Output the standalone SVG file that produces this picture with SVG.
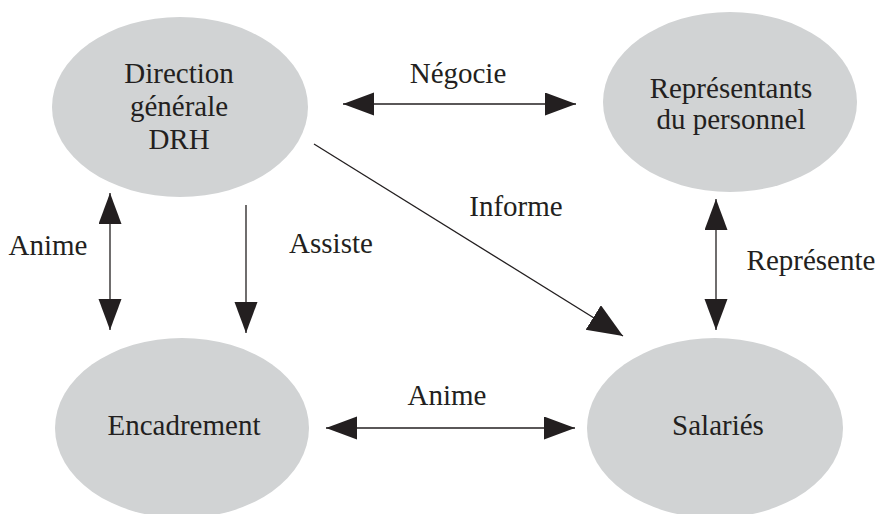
<svg xmlns="http://www.w3.org/2000/svg" width="882" height="514" viewBox="0 0 882 514">
<style>
.node{fill:#d1d3d4;stroke:none}
.t{font-family:'Liberation Serif','Times New Roman','DejaVu Serif',serif;font-size:29px;fill:#231f20;text-anchor:middle}
.conn line{stroke:#231f20;stroke-width:1.3;fill:none}
</style>
<defs>
<marker id="ah" markerUnits="userSpaceOnUse" markerWidth="32" markerHeight="24" refX="31" refY="11.5" orient="auto-start-reverse" viewBox="0 0 32 24">
<path d="M0,0 L31,11.5 L0,23 Z" fill="#231f20"/>
</marker>
<marker id="ahb" markerUnits="userSpaceOnUse" markerWidth="36" markerHeight="30" refX="35" refY="14.5" orient="auto" viewBox="0 0 36 30">
<path d="M0,0 L35,14.5 L0,29 Z" fill="#231f20"/>
</marker>
</defs>
<rect width="882" height="514" fill="#ffffff"/>
<g id="direction">
<ellipse class="node" cx="180" cy="107" rx="128" ry="90"/>
<text class="t" font-family="Liberation Serif, serif" x="179" y="83">Direction</text>
<text class="t" font-family="Liberation Serif, serif" x="179" y="116">générale</text>
<text class="t" font-family="Liberation Serif, serif" x="179" y="149">DRH</text>
</g>
<g id="representants">
<ellipse class="node" cx="730" cy="102" rx="127" ry="90"/>
<text class="t" font-family="Liberation Serif, serif" x="731" y="98">Représentants</text>
<text class="t" font-family="Liberation Serif, serif" x="731" y="129">du personnel</text>
</g>
<g id="encadrement">
<ellipse class="node" cx="182" cy="428" rx="127" ry="90"/>
<text class="t" font-family="Liberation Serif, serif" x="184" y="435">Encadrement</text>
</g>
<g id="salaries">
<ellipse class="node" cx="715" cy="428" rx="128" ry="90"/>
<text class="t" font-family="Liberation Serif, serif" x="718" y="435">Salariés</text>
</g>
<g id="connectors" class="conn">
<line x1="343" y1="104" x2="576" y2="104" marker-start="url(#ah)" marker-end="url(#ah)"/>
<line x1="314" y1="144" x2="623" y2="336" marker-end="url(#ahb)"/>
<line x1="110" y1="193" x2="110" y2="330" marker-start="url(#ah)" marker-end="url(#ah)"/>
<line x1="246" y1="205" x2="246" y2="333" marker-end="url(#ah)"/>
<line x1="716" y1="199" x2="716" y2="330" marker-start="url(#ah)" marker-end="url(#ah)"/>
<line x1="326" y1="428" x2="575" y2="428" marker-start="url(#ah)" marker-end="url(#ah)"/>
</g>
<g id="labels">
<text class="t" font-family="Liberation Serif, serif" x="458" y="83">Négocie</text>
<text class="t" font-family="Liberation Serif, serif" x="516" y="216">Informe</text>
<text class="t" font-family="Liberation Serif, serif" x="48" y="255">Anime</text>
<text class="t" font-family="Liberation Serif, serif" x="331" y="253">Assiste</text>
<text class="t" font-family="Liberation Serif, serif" x="811" y="270">Représente</text>
<text class="t" font-family="Liberation Serif, serif" x="447" y="405">Anime</text>
</g>
</svg>
